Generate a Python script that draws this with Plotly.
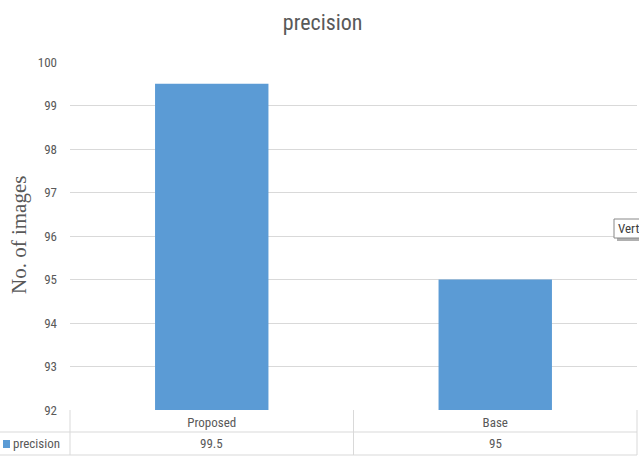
import plotly.graph_objects as go

categories = ["Proposed", "Base"]
precision = [99.5, 95]
y_ticks = [92, 93, 94, 95, 96, 97, 98, 99, 100]

W, H = 639, 465
L, R, T, B = 70, 2, 62, 55
PH = H - T - B  # plot height in px

NARROW = "Liberation Sans Narrow, Arial Narrow, Roboto Condensed, Roboto, sans-serif"
GREY = "#595959"
LINE = "#d9d9d9"
BLUE = "#5b9bd5"


def py(px):
    """pixel row (from top of page) -> paper y"""
    return (H - B - px) / PH


def px_x(px):
    """pixel column -> paper x"""
    return (px - L) / (W - L - R)


fig = go.Figure(
    go.Bar(
        x=categories,
        y=precision,
        marker=dict(color=BLUE, line=dict(width=0)),
        width=0.4,
        name="precision",
        showlegend=False,
    )
)

shapes = []
# data-table grid under the plot
row1, row2 = 432, 455
for y0 in [row1, row2]:
    shapes.append(dict(type="line", xref="paper", yref="paper",
                       x0=px_x(0), x1=1, y0=py(y0), y1=py(y0),
                       line=dict(color=LINE, width=1)))
for xv in [0, 1]:
    shapes.append(dict(type="line", xref="paper", yref="paper",
                       x0=xv, x1=xv, y0=0, y1=py(row2),
                       line=dict(color=LINE, width=1)))
shapes.append(dict(type="line", xref="x", yref="paper",
                   x0=0.5, x1=0.5, y0=0, y1=py(row2),
                   line=dict(color=LINE, width=1)))
# legend key square
shapes.append(dict(type="rect", xref="paper", yref="paper",
                   x0=px_x(3), x1=px_x(10), y0=py(448), y1=py(440),
                   fillcolor=BLUE, line=dict(width=0)))
# small popup box on the right edge
shapes.append(dict(type="rect", xref="paper", yref="paper",
                   x0=px_x(617), x1=px_x(645), y0=py(241), y1=py(222),
                   fillcolor="#b0b0b0", line=dict(width=0), layer="above"))
shapes.append(dict(type="rect", xref="paper", yref="paper",
                   x0=px_x(614), x1=px_x(642), y0=py(238), y1=py(219),
                   fillcolor="white", line=dict(color="#888888", width=1), layer="above"))

annotations = []
for c, v in zip(categories, precision):
    annotations.append(dict(x=c, xref="x", y=py(443.5), yref="paper",
                            yanchor="middle",
                            text=f"{v:g}", showarrow=False,
                            font=dict(family=NARROW, size=13, color=GREY)))
annotations.append(dict(x=px_x(11), xref="paper", y=py(443.5), yref="paper",
                        xanchor="left", yanchor="middle", text="precision",
                        showarrow=False,
                        font=dict(family=NARROW, size=13, color=GREY)))
annotations.append(dict(x=px_x(616), xref="paper", y=py(228.5), yref="paper",
                        xanchor="left", yanchor="middle", text="Vert",
                        showarrow=False,
                        font=dict(family=NARROW, size=13, color="#404040")))
annotations.append(dict(x=px_x(19), xref="paper", y=py(235), yref="paper",
                        xanchor="center", yanchor="middle",
                        text="No. of images", textangle=-90, showarrow=False,
                        font=dict(family="Liberation Serif, Times New Roman, serif",
                                  size=21, color=GREY)))

fig.update_layout(
    width=W, height=H,
    margin=dict(l=L, r=R, t=T, b=B),
    paper_bgcolor="white",
    plot_bgcolor="white",
    title=dict(text="precision", x=0.505, xanchor="center", y=1 - 22 / H,
               yanchor="middle",
               font=dict(family=NARROW, size=22, color=GREY)),
    xaxis=dict(showgrid=False, showline=False, zeroline=False, ticks="",
               tickfont=dict(family=NARROW, size=13, color=GREY),
               ticklabelstandoff=3, fixedrange=True),
    yaxis=dict(range=[92, 100], tickvals=y_ticks, showgrid=True,
               gridcolor=LINE, gridwidth=1, zeroline=False, showline=False,
               ticks="", ticklabelstandoff=12,
               tickfont=dict(family=NARROW, size=13, color=GREY)),
    shapes=shapes,
    annotations=annotations,
    bargap=0.6,
)

fig.write_html("out.html")
